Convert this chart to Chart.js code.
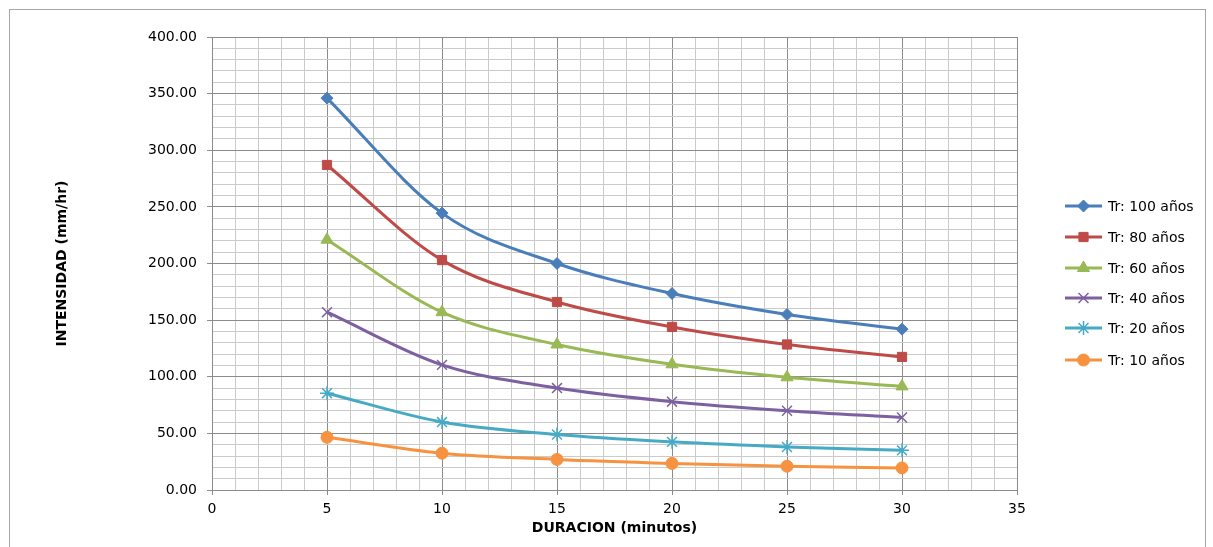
<!DOCTYPE html>
<html>
<head>
<meta charset="utf-8">
<script src="https://cdn.jsdelivr.net/npm/chart.js@4/dist/chart.umd.min.js"></script>
<style>
  html, body { margin: 0; padding: 0; background: #fff; }
  #wrap { position: relative; width: 1213px; height: 547px; overflow: hidden; }
  #marco { position: absolute; left: 9px; top: 9px; width: 1197px; height: 560px; border: 1px solid #a6a6a6; box-sizing: border-box; }
  canvas { position: absolute; left: 0; top: 0; }
</style>
</head>
<body>
<div id="wrap">
  <div id="marco"></div>
  <canvas id="idfChart" width="1213" height="547"></canvas>
</div>
<script>
// Duración (minutos)
const duraciones = [5, 10, 15, 20, 25, 30];

// Intensidades (mm/hr) por periodo de retorno
const tr100 = [346, 244.5, 200, 173.5, 155, 142];
const tr80 = [287, 203, 166, 144, 128.5, 117.5];
const tr60 = [221, 157, 128.5, 111, 99.5, 91.5];
const tr40 = [157, 110.5, 90, 78, 70, 64];
const tr20 = [85.5, 60, 49, 42.5, 38, 35];
const tr10 = [46.5, 32.5, 27, 23.5, 21, 19.5];

const etiquetas = ['Tr: 100 años', 'Tr: 80 años', 'Tr: 60 años', 'Tr: 40 años', 'Tr: 20 años', 'Tr: 10 años'];
const colores = ['#4A7EBB', '#BE4B48', '#98B954', '#7D60A0', '#46AAC5', '#F69240'];
const marcadores = ['rectRot', 'rect', 'triangle', 'crossRot', 'star', 'circle'];
const radios = [6, 6.5, 7, 7, 7, 6];

const series = [tr100, tr80, tr60, tr40, tr20, tr10];

const FUENTE = "'DejaVu Sans', sans-serif";
Chart.defaults.font.family = FUENTE;
Chart.defaults.color = '#000';

const datasets = series.map((valores, i) => ({
  label: etiquetas[i],
  data: duraciones.map((d, j) => ({ x: d, y: valores[j] })),
  borderColor: colores[i],
  backgroundColor: colores[i],
  pointBackgroundColor: colores[i],
  pointBorderColor: colores[i],
  pointStyle: marcadores[i],
  pointRadius: radios[i],
  pointBorderWidth: (marcadores[i] === 'crossRot' || marcadores[i] === 'star') ? 1.5 : 1,
  borderWidth: 3,
  tension: 0.4,
  cubicInterpolationMode: 'monotone',
  fill: false
}));

// Leyenda dibujada a mano: linea + marcador + texto
const leyendaExcel = {
  id: 'leyendaExcel',
  afterDraw(chart) {
    const ctx = chart.ctx;
    const x0 = 1065, x1 = 1102, xt = 1108;
    const filas = [206, 237, 268, 298, 328, 360];
    ctx.save();
    chart.data.datasets.forEach((ds, i) => {
      const y = filas[i];
      ctx.strokeStyle = ds.borderColor;
      ctx.lineWidth = 3;
      ctx.beginPath();
      ctx.moveTo(x0, y);
      ctx.lineTo(x1, y);
      ctx.stroke();
      ctx.fillStyle = ds.pointBackgroundColor;
      ctx.strokeStyle = ds.pointBorderColor;
      ctx.lineWidth = ds.pointBorderWidth;
      Chart.helpers.drawPoint(ctx, { pointStyle: ds.pointStyle, radius: ds.pointRadius, rotation: 0, borderWidth: ds.pointBorderWidth }, (x0 + x1) / 2, y);
      ctx.fillStyle = '#000';
      ctx.font = '14px ' + FUENTE;
      ctx.textBaseline = 'middle';
      ctx.textAlign = 'left';
      ctx.fillText(ds.label, xt, y + 1);
    });
    ctx.restore();
  }
};

new Chart(document.getElementById('idfChart'), {
  type: 'line',
  data: { datasets },
  plugins: [leyendaExcel],
  options: {
    responsive: false,
    animation: false,
    layout: { padding: { left: 0, right: 196, top: 37, bottom: 0 } },
    plugins: {
      legend: { display: false },
      tooltip: { enabled: false }
    },
    scales: {
      x: {
        type: 'linear',
        min: 0,
        max: 35,
        afterFit(scale) { scale.height = 57; },
        ticks: {
          stepSize: 1,
          autoSkip: false,
          maxRotation: 0,
          padding: 6,
          font: { size: 14 },
          callback: v => (v % 5 === 0 ? String(v) : '')
        },
        grid: {
          color: c => (c.tick && c.tick.value % 5 === 0 ? '#8c8c8c' : '#cbcbcb'),
          tickColor: c => (c.tick && c.tick.value % 5 === 0 ? '#8c8c8c' : 'rgba(0,0,0,0)'),
          tickLength: 5,
          lineWidth: 1
        },
        border: { color: '#8c8c8c' },
        title: {
          display: true,
          text: 'DURACION (minutos)',
          font: { size: 14, weight: 'bold' },
          padding: { top: 0, bottom: 10 }
        }
      },
      y: {
        min: 0,
        max: 400,
        afterFit(scale) { scale.width = 212; },
        ticks: {
          stepSize: 10,
          autoSkip: false,
          padding: 10,
          font: { size: 14 },
          callback: v => (v % 50 === 0 ? v.toFixed(2) : '')
        },
        grid: {
          color: c => (c.tick && c.tick.value % 50 === 0 ? '#8c8c8c' : '#cbcbcb'),
          tickColor: c => (c.tick && c.tick.value % 50 === 0 ? '#8c8c8c' : 'rgba(0,0,0,0)'),
          tickLength: 5,
          lineWidth: 1
        },
        border: { color: '#8c8c8c' },
        title: {
          display: true,
          text: 'INTENSIDAD (mm/hr)',
          font: { size: 14, weight: 'bold' },
          padding: { top: 54, bottom: 0 }
        }
      }
    }
  }
});
</script>
</body>
</html>
